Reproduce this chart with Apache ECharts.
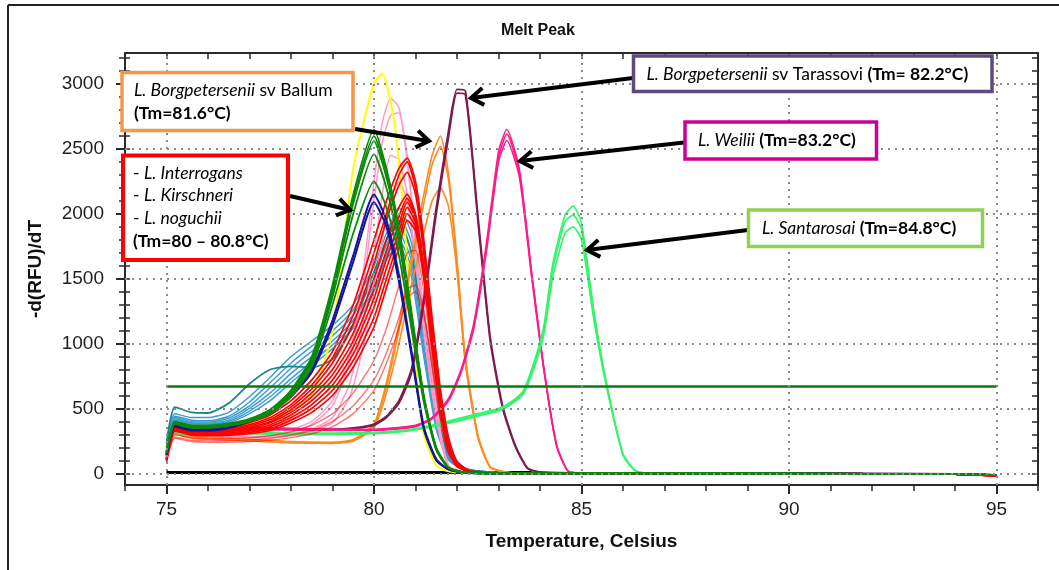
<!DOCTYPE html>
<html><head><meta charset="utf-8">
<script src="https://cdn.jsdelivr.net/npm/echarts@6/dist/echarts.min.js"></script>
<style>html,body{margin:0;padding:0;background:#fff}#c{width:1059px;height:570px}</style>
</head><body><div id="c"></div>
<script>
// ---------- tick / gridline values ----------
const X_MAJOR = [75, 80, 85, 90, 95];
const Y_MAJOR = [0, 500, 1000, 1500, 2000, 2500, 3000];
const Y_MINOR = [0,100,200,300,400,500,600,700,800,900,1000,1100,1200,1300,1400,1500,1600,1700,1800,1900,2000,2100,2200,2300,2400,2500,2600,2700,2800,2900,3000,3100,3200];

// ---------- light blue family ----------
const T_LB = [75, 75.2, 75.6, 76, 76.5, 77, 77.5, 78, 78.5, 79, 79.5, 80, 80.3, 80.6, 80.9, 81.2, 81.5, 81.8, 82.2, 83, 86, 90, 94, 95];
const LB1 = [210, 460, 430, 430, 470, 590, 740, 900, 1020, 1140, 1300, 1600, 1850, 2050, 1850, 1250, 560, 180, 40, 5, 0, -2, -6, -14];
const LB2 = [200, 440, 410, 405, 440, 550, 700, 850, 980, 1100, 1260, 1550, 1800, 1980, 1780, 1150, 480, 150, 35, 5, 0, -2, -6, -14];
const LB3 = [190, 430, 400, 395, 425, 520, 660, 810, 940, 1060, 1220, 1500, 1760, 1920, 1700, 1080, 430, 130, 30, 4, 0, -2, -6, -14];
const LB4 = [180, 420, 390, 385, 410, 500, 620, 770, 900, 1020, 1180, 1450, 1700, 1850, 1640, 1000, 400, 120, 30, 4, 0, -2, -6, -14];
const LB5 = [170, 410, 385, 380, 400, 480, 590, 730, 860, 990, 1150, 1420, 1680, 1800, 1580, 950, 370, 110, 25, 4, 0, -2, -6, -14];
const LB6 = [165, 400, 375, 370, 390, 460, 560, 700, 830, 960, 1120, 1400, 1650, 1760, 1520, 900, 340, 100, 25, 4, 0, -2, -6, -14];
const TEAL = [230, 510, 470, 465, 540, 690, 800, 825, 815, 880, 1150, 1550, 1800, 1950, 1700, 1100, 480, 150, 35, 5, 0, -2, -6, -14];

// ---------- pink family ----------
const T_PK = [75, 75.2, 75.6, 76, 77, 78, 78.5, 79, 79.4, 79.7, 80, 80.2, 80.4, 80.6, 80.8, 81, 81.2, 81.4, 81.6, 81.8, 82.2, 83, 86, 90, 94, 95];
const PK1 = [160, 360, 330, 320, 320, 340, 400, 560, 900, 1450, 2250, 2700, 2890, 2820, 2450, 1800, 1250, 750, 330, 60, 10, 0, 0, -2, -6, -14];
const PK2 = [150, 340, 310, 300, 300, 320, 380, 520, 840, 1350, 2100, 2550, 2760, 2780, 2400, 1780, 1220, 720, 310, 55, 10, 0, 0, -2, -6, -14];
const PK3 = [140, 320, 290, 280, 285, 300, 340, 430, 680, 1100, 1700, 2150, 2450, 2420, 2150, 1650, 1120, 650, 280, 50, 8, 0, 0, -2, -6, -14];
const PK4 = [140, 310, 280, 270, 275, 290, 320, 390, 580, 920, 1400, 1800, 2100, 2250, 2100, 1650, 1100, 620, 260, 50, 8, 0, 0, -2, -6, -14];

// ---------- yellow ----------
const T_YL = [75, 75.2, 75.6, 76, 77, 77.5, 78, 78.5, 79, 79.5, 80, 80.2, 80.5, 80.7, 81, 81.2, 81.5, 81.8, 82.2, 83, 86, 90, 94, 95];
const YL1 = [170, 380, 350, 345, 380, 420, 480, 600, 1100, 2350, 3010, 3080, 2690, 2050, 850, 300, 60, 15, 5, 0, 0, -2, -6, -14];

// ---------- blue / dark green ----------
const T_BG = [75, 75.2, 75.6, 76, 76.5, 77, 77.5, 78, 78.5, 79, 79.5, 80, 80.3, 80.6, 80.9, 81.2, 81.5, 81.8, 82.2, 83, 86, 90, 94, 95];
const BL1 = [150, 370, 340, 340, 360, 410, 490, 610, 800, 1180, 1680, 2150, 1950, 1530, 950, 360, 110, 30, 5, 0, 0, -2, -6, -14];
const BL2 = [140, 360, 330, 330, 350, 400, 475, 590, 780, 1140, 1630, 2090, 1900, 1480, 920, 340, 100, 28, 5, 0, 0, -2, -6, -14];
const GR1 = [170, 400, 370, 370, 385, 420, 490, 640, 900, 1450, 2150, 2650, 2350, 1900, 1250, 600, 200, 45, 6, 0, 0, -2, -6, -14];
const GR2 = [165, 395, 365, 365, 380, 415, 485, 630, 885, 1420, 2110, 2600, 2320, 1870, 1230, 590, 195, 44, 6, 0, 0, -2, -6, -14];
const GR3 = [160, 390, 360, 360, 375, 410, 480, 620, 870, 1400, 2080, 2560, 2280, 1840, 1210, 580, 190, 43, 6, 0, 0, -2, -6, -14];
const GR4 = [160, 385, 355, 355, 370, 405, 470, 605, 850, 1360, 2000, 2460, 2200, 1780, 1180, 570, 185, 42, 6, 0, 0, -2, -6, -14];
const GR5 = [155, 380, 350, 350, 365, 400, 460, 590, 820, 1300, 1850, 2250, 2050, 1680, 1120, 550, 180, 40, 6, 0, 0, -2, -6, -14];

// ---------- orange (Ballum) ----------
const T_OR = [75, 75.2, 75.6, 76, 77, 78, 79, 79.5, 80, 80.3, 80.6, 80.9, 81.2, 81.4, 81.6, 81.8, 82, 82.2, 82.5, 82.8, 83.2, 84, 86, 90, 94, 95];
const OR1 = [150, 320, 290, 280, 265, 245, 240, 260, 380, 700, 1150, 1650, 2150, 2450, 2600, 2300, 1650, 900, 300, 50, 8, 0, 0, -2, -6, -14];
const OR2 = [145, 310, 285, 275, 260, 240, 235, 255, 370, 670, 1100, 1600, 2080, 2380, 2520, 2250, 1600, 870, 290, 48, 8, 0, 0, -2, -6, -14];
const OR3 = [140, 300, 275, 265, 250, 235, 230, 250, 350, 620, 1000, 1450, 1850, 2100, 2200, 2050, 1550, 850, 280, 45, 8, 0, 0, -2, -6, -14];

// ---------- maroon (Tarassovi) ----------
const T_MR = [75, 75.2, 75.6, 76, 77, 78, 79, 79.5, 80, 80.3, 80.6, 80.9, 81.2, 81.5, 81.8, 82, 82.2, 82.5, 82.8, 83.1, 83.4, 83.7, 84, 86, 90, 94, 95];
const MR1 = [140, 330, 340, 345, 350, 345, 340, 350, 380, 440, 560, 800, 1350, 2050, 2650, 2960, 2950, 2000, 1050, 520, 220, 40, 10, 0, -2, -6, -14];
const MR2 = [135, 325, 335, 340, 345, 340, 335, 345, 370, 430, 540, 770, 1300, 2000, 2600, 2930, 2920, 1960, 1020, 500, 210, 38, 10, 0, -2, -6, -14];

// ---------- magenta (Weilii) ----------
const T_WE = [75, 75.2, 75.6, 76, 77, 78, 79, 80, 80.5, 81, 81.4, 81.8, 82.1, 82.4, 82.7, 83, 83.2, 83.5, 83.8, 84.1, 84.4, 84.7, 85, 87, 90, 94, 95];
const WE1 = [140, 330, 340, 345, 350, 345, 340, 340, 350, 370, 430, 580, 800, 1150, 1750, 2480, 2650, 2350, 1550, 800, 220, 10, 3, 0, -2, -6, -14];
const WE2 = [135, 325, 335, 340, 345, 340, 335, 335, 345, 365, 425, 570, 790, 1130, 1720, 2440, 2615, 2320, 1530, 790, 215, 10, 3, 0, -2, -6, -14];
const WE3 = [130, 320, 330, 335, 340, 335, 330, 330, 340, 360, 420, 560, 780, 1110, 1690, 2400, 2565, 2290, 1510, 780, 210, 10, 3, 0, -2, -6, -14];

// ---------- light green (Santarosai) ----------
const T_SA = [75, 75.2, 75.6, 76, 77, 78, 79, 80, 80.5, 81, 81.5, 82, 82.5, 83, 83.3, 83.6, 83.9, 84.1, 84.3, 84.6, 84.8, 85, 85.3, 85.6, 86, 86.3, 86.6, 88, 90, 94, 95];
const SA1 = [130, 310, 315, 315, 315, 310, 310, 315, 325, 345, 380, 420, 460, 500, 550, 640, 900, 1150, 1600, 1990, 2060, 1930, 1250, 700, 150, 20, 0, 0, -2, -6, -14];
const SA2 = [125, 305, 310, 310, 310, 305, 305, 310, 320, 340, 372, 410, 450, 490, 540, 625, 880, 1120, 1560, 1940, 1990, 1880, 1220, 690, 145, 20, 0, 0, -2, -6, -14];
const SA3 = [120, 300, 305, 305, 305, 300, 300, 305, 315, 335, 365, 400, 440, 480, 530, 610, 850, 1080, 1500, 1850, 1900, 1800, 1180, 670, 140, 18, 0, 0, -2, -6, -14];

// ---------- red (Interrogans / Kirschneri / noguchii) ----------
const T_RD = [75, 75.2, 75.6, 76, 76.5, 77, 77.5, 78, 78.5, 79, 79.5, 80, 80.3, 80.6, 80.8, 81, 81.2, 81.4, 81.6, 81.8, 82, 82.3, 82.7, 83.2, 85, 90, 94, 95];
const RD1 = [120, 370, 340, 335, 350, 390, 450, 560, 720, 940, 1300, 1800, 2100, 2350, 2430, 2250, 1800, 1200, 650, 270, 90, 20, 3, 0, 0, -2, -6, -18];
const RD2 = [115, 360, 330, 325, 340, 375, 430, 530, 680, 890, 1220, 1700, 2000, 2300, 2400, 2200, 1750, 1150, 620, 250, 85, 18, 3, 0, 0, -2, -6, -18];
const RD3 = [110, 355, 325, 320, 330, 365, 415, 510, 650, 850, 1150, 1620, 1950, 2220, 2320, 2150, 1700, 1100, 600, 240, 80, 18, 3, 0, 0, -2, -6, -18];
const RD4 = [110, 350, 320, 315, 325, 355, 400, 490, 620, 800, 1080, 1500, 1800, 2050, 2150, 2000, 1600, 1050, 560, 220, 75, 15, 2, 0, 0, -2, -6, -18];
const RD5 = [105, 345, 315, 310, 320, 345, 390, 470, 590, 760, 1020, 1420, 1720, 1980, 2120, 1980, 1580, 1020, 540, 210, 70, 15, 2, 0, 0, -2, -6, -18];
const RD6 = [105, 340, 310, 305, 312, 335, 375, 450, 560, 720, 970, 1350, 1650, 1920, 2090, 1960, 1560, 1000, 520, 200, 70, 15, 2, 0, 0, -2, -6, -18];
const RD7 = [100, 335, 305, 300, 305, 325, 360, 430, 530, 680, 920, 1280, 1580, 1860, 2050, 1930, 1540, 990, 510, 200, 65, 14, 2, 0, 0, -2, -6, -18];
const RD8 = [100, 330, 300, 295, 298, 315, 345, 410, 500, 640, 870, 1200, 1500, 1800, 2000, 1900, 1520, 980, 500, 190, 60, 14, 2, 0, 0, -2, -6, -18];
const RD9 = [100, 325, 295, 290, 292, 305, 330, 390, 470, 600, 820, 1130, 1430, 1740, 1950, 1870, 1500, 960, 490, 185, 60, 14, 2, 0, 0, -2, -6, -18];
const RD10 = [90, 300, 270, 265, 268, 275, 290, 320, 370, 460, 620, 870, 1120, 1450, 1700, 1720, 1400, 900, 450, 170, 55, 12, 2, 0, 0, -2, -6, -18];
const RD11 = [85, 280, 255, 250, 252, 258, 270, 295, 330, 400, 520, 720, 930, 1200, 1420, 1450, 1250, 850, 430, 160, 50, 10, 2, 0, 0, -2, -6, -18];
const RD12 = [85, 270, 245, 240, 240, 245, 255, 275, 305, 360, 460, 640, 850, 1120, 1350, 1400, 1220, 820, 420, 150, 50, 10, 2, 0, 0, -2, -6, -18];

// ---------- no-template control & threshold ----------
const T_NTC = [75, 83.8];
const NTC = [6, 6];
const T_THR = [75, 95];
const THR = [670, 670];

// ---------- helpers ----------
const pairs = (t, v) => t.map((x, i) => [x, v[i]]);
function line(name, t, v, color, width, opacity) {
  return {
    name, type: 'line', data: pairs(t, v), showSymbol: false, symbol: 'none',
    smooth: 0.2, silent: true, animation: false,
    lineStyle: { color, width: width || 1.6, opacity: opacity == null ? 1 : opacity }
  };
}

const C = {
  lb: '#3d9fd0', teal: '#16878a', pink: '#ff9acb', yellow: '#ffff00', blue: '#14149c',
  green: '#0a8a0a', orange: '#ff8a1f', maroon: '#7d1a4e', magenta: '#ff1a8c',
  lgreen: '#33f56a', red: '#ff0000', thr: '#0b7a0b'
};
const GRIDC = '#8c8c8c';
const AX = '#2a2a2a';

const series = [];
const ntc = line('NTC', T_NTC, NTC, '#000', 3);
ntc.markLine = {
  silent: true, symbol: ['none', 'none'], animation: false, label: { show: false },
  lineStyle: { color: GRIDC, width: 2, type: [2, 5] },
  data: X_MAJOR.map(v => ({ xAxis: v })).concat(Y_MAJOR.map(v => ({ yAxis: v })))
};
series.push(ntc);
[LB6, LB5, LB4, LB3, LB2, LB1].forEach((v, i) => series.push(line('lb' + i, T_LB, v, C.lb, 1.5)));
series.push(line('teal', T_LB, TEAL, C.teal, 1.8));
[PK4, PK3, PK2, PK1].forEach((v, i) => series.push(line('pk' + i, T_PK, v, C.pink, 1.5)));
series.push(line('yellow', T_YL, YL1, C.yellow, 2));
[OR3, OR2, OR1].forEach((v, i) => series.push(line('or' + i, T_OR, v, C.orange, 1.6)));
[MR2, MR1].forEach((v, i) => series.push(line('mr' + i, T_MR, v, C.maroon, 1.8)));
[WE3, WE2, WE1].forEach((v, i) => series.push(line('we' + i, T_WE, v, C.magenta, 1.6)));
[SA3, SA2, SA1].forEach((v, i) => series.push(line('sa' + i, T_SA, v, C.lgreen, 1.6)));
[RD12, RD11, RD10].forEach((v, i) => series.push(line('rdl' + i, T_RD, v, C.red, 1.4, 0.55)));
[RD9, RD8, RD7, RD6, RD5, RD4, RD3, RD2, RD1].forEach((v, i) => series.push(line('rd' + i, T_RD, v, C.red, 1.7)));
[BL2, BL1].forEach((v, i) => series.push(line('bl' + i, T_BG, v, C.blue, 2)));
[GR5, GR4, GR3, GR2, GR1].forEach((v, i) => series.push(line('gr' + i, T_BG, v, C.green, 1.8)));
series.push(line('threshold', T_THR, THR, C.thr, 2.5));

// ---------- annotations (boxes & arrows, pixel layout) ----------
const FONT = 'Lato';
const FS = 17.5;
const rich = {
  i: { fontStyle: 'italic', fontSize: FS, fontFamily: FONT, fill: '#000' },
  n: { fontSize: FS, fontFamily: FONT, fill: '#000' },
  b: { fontWeight: 'bold', fontSize: FS, fontFamily: FONT, fill: '#000' }
};
function box(x, y, w, h, color, lw) {
  return { type: 'rect', z: 100, shape: { x, y, width: w, height: h },
    style: { fill: '#fff', stroke: color, lineWidth: lw } };
}
function txt(x, y, text) {
  return { type: 'text', z: 101, x, y,
    style: { text, rich, fontSize: FS, fontFamily: FONT, fill: '#000', verticalAlign: 'middle', align: 'left' } };
}
function arrow(x1, y1, x2, y2) {
  const a = Math.atan2(y1 - y2, x1 - x2), L = 15, s = 0.6;
  const p1 = [x2 + L * Math.cos(a + s), y2 + L * Math.sin(a + s)];
  const p2 = [x2 + L * Math.cos(a - s), y2 + L * Math.sin(a - s)];
  return [
    { type: 'line', z: 99, shape: { x1, y1, x2: x2 + 2 * Math.cos(a), y2: y2 + 2 * Math.sin(a) },
      style: { stroke: '#000', lineWidth: 4 } },
    { type: 'polyline', z: 99, shape: { points: [p1, [x2, y2], p2] },
      style: { stroke: '#000', lineWidth: 4, fill: null, lineJoin: 'miter' } }
  ];
}

const graphics = [
  { type: 'line', shape: { x1: 8, y1: 5, x2: 1059, y2: 5 }, style: { stroke: '#222', lineWidth: 2 } },
  { type: 'line', shape: { x1: 8, y1: 5, x2: 8, y2: 570 }, style: { stroke: '#222', lineWidth: 2 } },
  { type: 'text', x: 538, y: 31, style: { text: 'Melt Peak', font: 'bold 16px "Liberation Sans"', fill: '#111', align: 'center', verticalAlign: 'middle' } },
  ...arrow(355, 129, 429, 141),
  ...arrow(290, 196, 350, 210),
  ...arrow(633, 78, 471, 98),
  ...arrow(684, 142.5, 520, 161),
  ...arrow(748, 230, 587, 250),
  box(122, 72.5, 231, 58, '#f79646', 3.5),
  txt(134, 90, '{i|L. Borgpetersenii} {n|sv Ballum}'),
  txt(134, 113, '{b|(Tm=81.6°C)}'),
  box(123, 155.5, 165, 104.5, '#ff0000', 4),
  txt(133, 173.5, '{n|- }{i|L. Interrogans}'),
  txt(133, 195.5, '{n|- }{i|L. Kirschneri}'),
  txt(133, 218.5, '{n|- }{i|L. noguchii}'),
  txt(133, 241.5, '{b|(Tm=80 – 80.8°C)}'),
  box(633.5, 56, 358.5, 35.5, '#5f497a', 3.5),
  txt(646.5, 74, '{i|L. Borgpetersenii} {n|sv Tarassovi} {b|(Tm= 82.2°C)}'),
  box(685, 122, 191.5, 37, '#cc0099', 3.5),
  txt(698, 140.5, '{i|L. Weilii} {b|(Tm=83.2°C)}'),
  box(748.5, 210, 234, 36.5, '#92d050', 3.5),
  txt(762, 228, '{i|L. Santarosai} {b|(Tm=84.8°C)}')
];

// ---------- axes ----------
const labelStyle = { fontSize: 19, color: '#1e1e1e', fontFamily: 'Liberation Sans', formatter: v => String(v) };
const option = {
  animation: false,
  backgroundColor: '#fff',
  grid: { left: 125, right: 21, top: 53, bottom: 85, containLabel: false, outerBoundsMode: 'none' },
  xAxis: [
    { type: 'value', min: 74, max: 96, position: 'bottom',
      axisLine: { show: true, onZero: false, lineStyle: { color: AX, width: 2 } },
      axisTick: { show: true, customValues: X_MAJOR, length: 9, lineStyle: { color: AX, width: 2 } },
      axisLabel: Object.assign({ show: true, customValues: X_MAJOR, margin: 15 }, labelStyle),
      splitLine: { show: false },
      name: 'Temperature, Celsius', nameLocation: 'middle', nameGap: 47,
      nameTextStyle: { fontSize: 19, fontWeight: 'bold', color: '#111', fontFamily: 'Liberation Sans' } },
    { type: 'value', min: 74, max: 96, interval: 1, position: 'bottom',
      axisLine: { show: false, onZero: false },
      axisTick: { show: true, length: 6, lineStyle: { color: AX, width: 1.5 } },
      axisLabel: { show: false }, splitLine: { show: false } },
    { type: 'value', min: 74, max: 96, interval: 1, position: 'top',
      axisLine: { show: true, onZero: false, lineStyle: { color: AX, width: 2 } },
      axisTick: { show: true, inside: true, length: 6, lineStyle: { color: AX, width: 1.5 } },
      axisLabel: { show: false }, splitLine: { show: false } }
  ],
  yAxis: [
    { type: 'value', min: -90, max: 3240, position: 'left',
      axisLine: { show: true, onZero: false, lineStyle: { color: AX, width: 2 } },
      axisTick: { show: true, customValues: Y_MAJOR, length: 9, lineStyle: { color: AX, width: 2 } },
      axisLabel: Object.assign({ show: true, customValues: Y_MAJOR, margin: 21 }, labelStyle),
      splitLine: { show: false },
      name: '-d(RFU)/dT', nameLocation: 'middle', nameGap: 80, nameRotate: 90,
      nameTextStyle: { fontSize: 19, fontWeight: 'bold', color: '#111', fontFamily: 'Liberation Sans' } },
    { type: 'value', min: -90, max: 3240, position: 'left',
      axisLine: { show: false, onZero: false },
      axisTick: { show: true, customValues: Y_MINOR, length: 6, lineStyle: { color: AX, width: 1.5 } },
      axisLabel: { show: false }, splitLine: { show: false } },
    { type: 'value', min: -90, max: 3240, position: 'left',
      axisLine: { show: false, onZero: false },
      axisTick: { show: true, inside: true, customValues: Y_MINOR, length: 5, lineStyle: { color: AX, width: 1.5 } },
      axisLabel: { show: false }, splitLine: { show: false } },
    { type: 'value', min: -90, max: 3240, position: 'right',
      axisLine: { show: true, onZero: false, lineStyle: { color: AX, width: 2 } },
      axisTick: { show: true, inside: true, customValues: Y_MINOR, length: 6, lineStyle: { color: AX, width: 1.5 } },
      axisLabel: { show: false }, splitLine: { show: false } }
  ],
  series,
  graphic: graphics
};

const chart = echarts.init(document.getElementById('c'), null, { renderer: 'canvas' });
chart.setOption(option);
</script>
</body></html>
